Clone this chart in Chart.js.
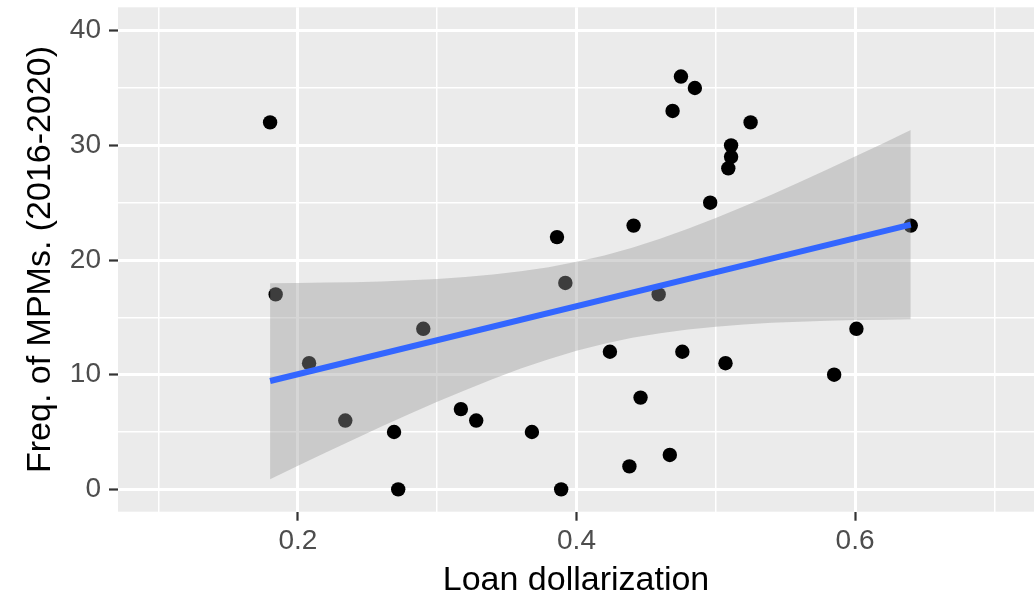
<!DOCTYPE html>
<html><head><meta charset="utf-8">
<script src="https://cdn.jsdelivr.net/npm/chart.js@4.4.0/dist/chart.umd.min.js"></script>
<style>html,body{margin:0;padding:0;background:#fff;} canvas{display:block;}</style>
</head><body>
<canvas id="c" width="1034" height="596"></canvas>
<script>
// Scatter data: loan dollarization vs frequency of MPMs (2016-2020)
const loanDollarization = [0.180, 0.184, 0.208, 0.234, 0.269, 0.272, 0.290, 0.317, 0.328, 0.368, 0.386, 0.389, 0.392, 0.424, 0.438, 0.441, 0.446, 0.459, 0.467, 0.469, 0.475, 0.476, 0.485, 0.496, 0.507, 0.509, 0.511, 0.511, 0.525, 0.585, 0.601, 0.640];
const mpmFrequency      = [32, 17, 11, 6, 5, 0, 14, 7, 6, 5, 22, 0, 18, 12, 2, 23, 8, 17, 3, 33, 36, 12, 35, 25, 11, 28, 29, 30, 32, 10, 14, 23];

// Fitted line
const fitX = [0.18, 0.64];
const fitY = [9.45, 23.08];

// Confidence band
const bandX     = [0.18, 0.20, 0.22, 0.24, 0.26, 0.28, 0.30, 0.32, 0.34, 0.36, 0.38, 0.40, 0.42, 0.44, 0.46, 0.48, 0.50, 0.52, 0.54, 0.56, 0.58, 0.60, 0.62, 0.64];
const bandUpper = [17.97, 17.99, 18.03, 18.07, 18.13, 18.23, 18.35, 18.51, 18.73, 19.01, 19.37, 19.84, 20.40, 21.07, 21.86, 22.72, 23.66, 24.66, 25.70, 26.78, 27.89, 29.02, 30.17, 31.33];
const bandLower = [0.89, 2.05, 3.21, 4.35, 5.47, 6.57, 7.63, 8.65, 9.63, 10.53, 11.35, 12.08, 12.70, 13.21, 13.62, 13.94, 14.18, 14.38, 14.52, 14.62, 14.71, 14.76, 14.79, 14.83];

// Axis ticks
const xTickValues = [0.1, 0.2, 0.3, 0.4, 0.5, 0.6, 0.7];
const xTickLabels = ['', '0.2', '', '0.4', '', '0.6', ''];
const yTickValues = [0, 5, 10, 15, 20, 25, 30, 35, 40];
const yTickLabels = ['0', '', '10', '', '20', '', '30', '', '40'];

const xTitle = 'Loan dollarization';
const yTitle = 'Freq. of MPMs. (2016-2020)';

const FONT = "'Liberation Sans', Arial, Helvetica, sans-serif";

const toXY = (xs, ys) => xs.map((x, i) => ({x: x, y: ys[i]}));

const panelBg = {
  id: 'panelBg',
  beforeDraw(chart) {
    const {ctx, chartArea: a} = chart;
    ctx.save();
    ctx.fillStyle = '#EBEBEB';
    ctx.fillRect(a.left, a.top, a.right - a.left, a.bottom - a.top);
    ctx.restore();
  }
};

function isMajor(labels, idx) { return labels[idx] !== ''; }

new Chart(document.getElementById('c'), {
  type: 'scatter',
  data: {
    datasets: [
      {
        label: 'fit',
        data: toXY(fitX, fitY),
        showLine: true,
        borderColor: '#3366FF',
        borderWidth: 6,
        pointRadius: 0,
        fill: false,
        order: 0
      },
      {
        label: 'upper',
        data: toXY(bandX, bandUpper),
        showLine: true,
        borderColor: 'rgba(0,0,0,0)',
        borderWidth: 0,
        pointRadius: 0,
        fill: '+1',
        backgroundColor: 'rgba(153,153,153,0.4)',
        order: 1
      },
      {
        label: 'lower',
        data: toXY(bandX, bandLower),
        showLine: true,
        borderColor: 'rgba(0,0,0,0)',
        borderWidth: 0,
        pointRadius: 0,
        fill: false,
        order: 1
      },
      {
        label: 'points',
        data: toXY(loanDollarization, mpmFrequency),
        pointRadius: 7.2,
        pointBackgroundColor: '#000000',
        pointBorderWidth: 0,
        pointBorderColor: '#000000',
        order: 2
      }
    ]
  },
  options: {
    responsive: false,
    animation: false,
    devicePixelRatio: 1,
    layout: {autoPadding: false, padding: {top: 7.3, left: 0, right: 0, bottom: 0}},
    plugins: {legend: {display: false}, tooltip: {enabled: false}},
    scales: {
      x: {
        type: 'linear',
        min: 0.0708,
        max: 0.7285,
        afterBuildTicks(scale) { scale.ticks = xTickValues.map(v => ({value: v})); },
        afterFit(scale) {
          scale.height = 84.3;
          scale.paddingLeft = 0; scale.paddingRight = 0;
          scale.paddingTop = 0; scale.paddingBottom = 0;
        },
        border: {display: false},
        grid: {
          color: '#FFFFFF',
          lineWidth: (c) => isMajor(xTickLabels, c.index) ? 3 : 1.5,
          drawTicks: true,
          tickLength: 9,
          tickWidth: 2.2,
          tickColor: (c) => isMajor(xTickLabels, c.index) ? '#333333' : 'rgba(0,0,0,0)'
        },
        ticks: {
          autoSkip: false,
          maxRotation: 0,
          padding: 4,
          color: '#4D4D4D',
          font: {family: FONT, size: 28},
          callback: (v, i) => xTickLabels[i]
        },
        title: {
          display: true,
          text: xTitle,
          color: '#000000',
          font: {family: FONT, size: 34, lineHeight: 0.88},
          padding: {top: 0, bottom: 0}
        }
      },
      y: {
        type: 'linear',
        min: -1.95,
        max: 42.04,
        afterBuildTicks(scale) { scale.ticks = yTickValues.map(v => ({value: v})); },
        afterFit(scale) {
          scale.width = 118;
          scale.paddingLeft = 0; scale.paddingRight = 0;
          scale.paddingTop = 0; scale.paddingBottom = 0;
        },
        border: {display: false},
        grid: {
          color: '#FFFFFF',
          lineWidth: (c) => isMajor(yTickLabels, c.index) ? 3 : 1.5,
          drawTicks: true,
          tickLength: 9,
          tickWidth: 2.2,
          tickColor: (c) => isMajor(yTickLabels, c.index) ? '#333333' : 'rgba(0,0,0,0)'
        },
        ticks: {
          autoSkip: false,
          padding: 8,
          color: '#4D4D4D',
          font: {family: FONT, size: 28},
          callback: (v, i) => yTickLabels[i]
        },
        title: {
          display: true,
          text: yTitle,
          color: '#000000',
          font: {family: FONT, size: 34, lineHeight: 0.88},
          padding: {top: 26, bottom: 0}
        }
      }
    }
  },
  plugins: [panelBg]
});
</script>
</body></html>
